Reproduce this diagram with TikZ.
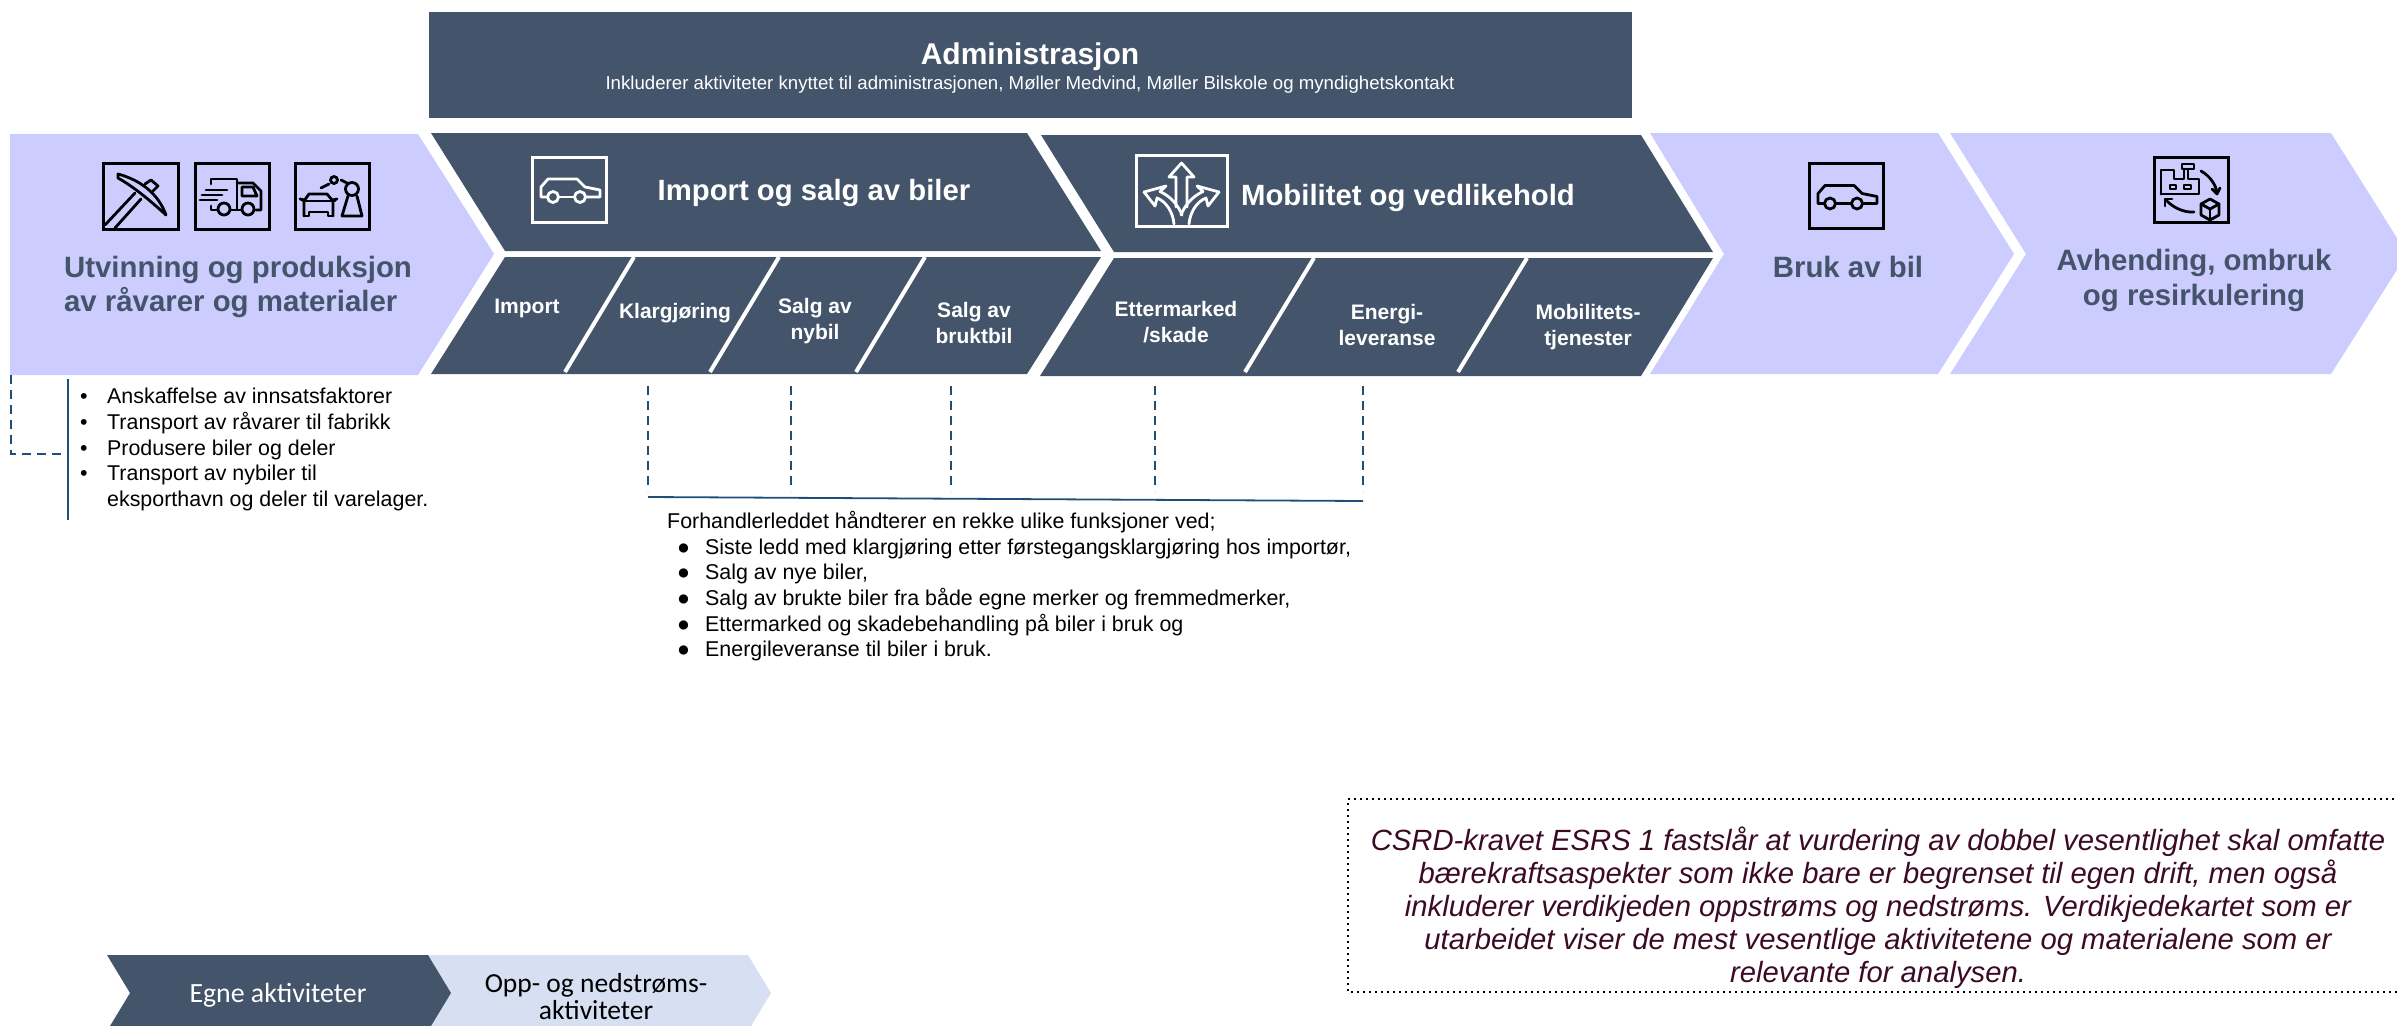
\documentclass[tikz,border=0pt]{standalone}
\usepackage{fontspec}
\setmainfont{Liberation Sans}
\newfontfamily\legendfont{Carlito}
\definecolor{slatec}{HTML}{44546A}
\definecolor{lavc}{HTML}{CCCCFF}
\definecolor{palec}{HTML}{D6E0F2}
\definecolor{navyc}{HTML}{1F4E79}
\definecolor{maroonc}{HTML}{3B0A24}
\newcommand{\fsz}[2]{\fontsize{#1pt}{#2pt}\selectfont}
\tikzset{
  x=1pt,y=-1pt,
  darkfill/.style={fill=slatec,draw=none},
  lavfill/.style={fill=lavc,draw=none},
  sepline/.style={draw=white,line width=4pt},
  leaddash/.style={draw=navyc,line width=1.5pt,dash pattern=on 9pt off 6pt},
  leadline/.style={draw=navyc,line width=1.8pt},
  lavtitle/.style={text=slatec,font=\bfseries\fsz{29.4}{35},align=center,inner sep=0},
  darktitle/.style={text=white,font=\bfseries\fsz{29.3}{35},align=center,inner sep=0},
  sublabel/.style={text=white,font=\bfseries\fsz{21}{26},align=center,inner sep=0},
  listtext/.style={text=black,font=\fsz{21.4}{25.7},align=left,inner sep=0,anchor=north west},
  iconline/.style={line width=2.8pt,line join=round,line cap=round},
  iconbox/.style={line width=3pt},
  caricon/.pic={
    \draw[iconbox] (0,0) rectangle (74,65);
    \draw[iconline] (15.5,40) -- (9,40) -- (9,30) -- (16,22) -- (45,22) -- (53,30) -- (68,33) -- (68,40) -- (53.5,40);
    \draw[iconline] (26.5,40) -- (42.5,40);
    \draw[iconline] (21,40) circle (5.5);
    \draw[iconline] (48,40) circle (5.5);
  },
}
\begin{document}
\begin{tikzpicture}
\useasboundingbox (0,0) rectangle (2397,1025);
\clip (0,0) rectangle (2397,1025);

% admin
\fill[darkfill] (429,12) rectangle (1632,118);
\node[darktitle,font=\bfseries\fsz{30}{35}] (admt) at (1030,57) {Administrasjon};
\node[text=white,font=\fsz{18.65}{22},inner sep=0] (adms) at (1030,85) {Inkluderer aktiviteter knyttet til administrasjonen, Møller Medvind, Møller Bilskole og myndighetskontakt};

% lavender chevrons
\fill[lavfill] (10,134) -- (418,134) -- (494,254) -- (418,375) -- (10,375) -- cycle;
\fill[lavfill] (1650,133) -- (1938,133) -- (2014,254) -- (1938,374) -- (1650,374) -- (1724,254) -- cycle;
\fill[lavfill] (1950,133) -- (2331,133) -- (2407,254) -- (2331,374) -- (1950,374) -- (2026,254) -- cycle;

% dark chevrons
\fill[darkfill] (431,133) -- (1027,133) -- (1101,251) -- (505,251) -- cycle;
\fill[darkfill] (505,257) -- (1101,257) -- (1027,374) -- (431,374) -- cycle;
\fill[darkfill] (1041,135) -- (1641,135) -- (1713,252) -- (1114,252) -- cycle;
\fill[darkfill] (1114,258) -- (1713,258) -- (1641,376) -- (1040,376) -- cycle;
\draw[sepline] (634,257) -- (565,372);
\draw[sepline] (779,257) -- (710,372);
\draw[sepline] (925,257) -- (856,372);
\draw[sepline] (1314,258) -- (1245,372);
\draw[sepline] (1527,258) -- (1458,372);

% chevron texts
\node[lavtitle,font=\bfseries\fsz{29.4}{34},align=left] (utv) at (238,287) {Utvinning og produksjon\\av råvarer og materialer};
\node[lavtitle] (bruk) at (1848,267) {Bruk av bil};
\node[lavtitle] (avh) at (2194,280) {Avhending, ombruk\\og resirkulering};
\node[darktitle] (imps) at (814,193) {Import og salg av biler};
\node[darktitle] (mob) at (1408,198) {Mobilitet og vedlikehold};
\node[sublabel] (l1) at (527,308) {Import};
\node[sublabel] (l2) at (675,313) {Klargjøring};
\node[sublabel] (l3) at (815,321) {Salg av\\nybil};
\node[sublabel] (l4) at (974,323) {Salg av\\bruktbil};
\node[sublabel] (l5) at (1176,322) {Ettermarked\\/skade};
\node[sublabel] (l6) at (1387,325) {Energi-\\leveranse};
\node[sublabel] (l7) at (1588,327) {Mobilitets-\\tjenester};

% icons: pickaxe
\begin{scope}[shift={(103,163)},color=black]
  \draw[iconbox] (0,0) rectangle (75,66);
  \draw[iconline] (15,11) .. controls (37,17) and (55,30) .. (63,52) .. controls (52,42) and (33,25) .. (15,15) -- cycle;
  \draw[iconline] (2,62) -- (32,30);
  \draw[iconline] (12,65) -- (38,36);
  \draw[iconline] (42,21) -- (48,17) -- (55,23) -- (50,28);
\end{scope}
% truck
\begin{scope}[shift={(195,163)},color=black]
  \draw[iconbox] (0,0) rectangle (74,66);
  \draw[iconline] (16,21) -- (16,16) -- (42,16) -- (42,46);
  \draw[iconline] (42,20) -- (58,20) -- (66,28) -- (66,47) -- (61,47);
  \draw[iconline] (47,24) -- (58,24) -- (62,33) -- (47,33) -- cycle;
  \draw[iconline] (36,47) -- (46,47);
  \draw[iconline] (16,43) -- (16,47) -- (22,47);
  \draw[iconline] (29,46) circle (6);
  \draw[iconline] (53,46) circle (6);
  \draw[iconline] (11,27) -- (32,27);
  \draw[iconline] (7,32) -- (27,32);
  \draw[iconline] (5,37) -- (22,37);
\end{scope}
% robot and car
\begin{scope}[shift={(295,163)},color=black]
  \draw[iconbox] (0,0) rectangle (74,66);
  \draw[iconline] (9,53) -- (9,38) -- (14,31) -- (32,31) -- (38,38) -- (38,53);
  \draw[iconline] (9,53) -- (14,53) -- (14,49) -- (33,49) -- (33,53) -- (38,53);
  \draw[iconline] (8,38) -- (40,38);
  \draw[iconline] (5,36) -- (9,37);
  \draw[iconline] (42,36) -- (38,37);
  \draw[iconline] (57,26) circle (6.5);
  \draw[iconline] (39,17) circle (3.5);
  \draw[iconline] (46,17) -- (52,20);
  \draw[iconline] (34,21) -- (26,25);
  \draw[iconline] (53,33) -- (47,53) -- (67,53) -- (62,33);
\end{scope}
% white car
\pic[color=white] at (532,157) {caricon};
% black car
\pic[color=black] at (1809,163.5) {caricon};
% arrows
\begin{scope}[shift={(1136,155)},color=white]
  \draw[iconbox] (0,0) rectangle (91,71);
  \draw[iconline] (40,52) -- (40,22) -- (33,22) -- (45.5,8) -- (58,22) -- (51,22) -- (51,52);
  \draw[iconline] (8,37) -- (30,31) -- (24,36.5) .. controls (36,42) and (43,52) .. (46,60);
  \draw[iconline] (8,37) -- (19,51) -- (21,43) .. controls (31,47) and (37,58) .. (38,69);
  \draw[iconline] (83,37) -- (61,31) -- (67,36.5) .. controls (55,42) and (48,52) .. (45,60);
  \draw[iconline] (83,37) -- (72,51) -- (70,43) .. controls (60,47) and (54,58) .. (53,69);
\end{scope}
% recycling
\begin{scope}[shift={(2154,157)},color=black]
  \draw[iconbox] (0,0) rectangle (74,65);
  \draw[iconline] (7,37) -- (7,13) -- (20,13) -- (20,22) -- (30,22) -- (30,12);
  \draw[iconline] (34,12) -- (34,22) -- (45,22) -- (45,37) -- (7,37);
  \draw[iconline] (28,7) rectangle (40,12);
  \draw[iconline,line width=2.4pt] (16,28) rectangle (22,32);
  \draw[iconline,line width=2.4pt] (30,28) rectangle (37,32);
  \draw[iconline] (47,14) .. controls (56,19) and (62,28) .. (63,36);
  \draw[iconline] (58,32) -- (63,37) -- (66,31);
  \draw[iconline] (40,55) .. controls (30,56) and (18,50) .. (12,43);
  \draw[iconline] (11,49) -- (11,42) -- (18,42);
  \draw[iconline] (47,47) -- (56,42) -- (65,47) -- (65,58) -- (56,63) -- (47,58) -- cycle;
  \draw[iconline] (47,47) -- (56,52) -- (65,47);
  \draw[iconline] (56,52) -- (56,63);
\end{scope}

% left bracket and list
\coordinate (dashA) at (11,375);
\coordinate (dashB) at (11,454);
\coordinate (dashC) at (66,454);
\coordinate (leadT) at (68,379);
\coordinate (leadB) at (68,520);
\draw[leaddash] (dashA) -- (dashB) -- (dashC);
\draw[leadline] (leadT) -- (leadB);
\node[listtext] (list1) at (80,388) {\makebox[27pt][l]{•}Anskaffelse av innsatsfaktorer\\
\makebox[27pt][l]{•}Transport av råvarer til fabrikk\\
\makebox[27pt][l]{•}Produsere biler og deler\\
\makebox[27pt][l]{•}Transport av nybiler til\\
\hspace*{27pt}eksporthavn og deler til varelager.};

% central leaders
\coordinate (t1) at (648,386);\coordinate (b1) at (648,491);
\coordinate (t2) at (791,386);\coordinate (b2) at (791,491);
\coordinate (t3) at (951,386);\coordinate (b3) at (951,491);
\coordinate (t4) at (1155,386);\coordinate (b4) at (1155,491);
\coordinate (t5) at (1363,386);\coordinate (b5) at (1363,491);
\coordinate (hl) at (648,497);\coordinate (hr) at (1363,501);
\draw[leaddash] (t1) -- (b1);
\draw[leaddash] (t2) -- (b2);
\draw[leaddash] (t3) -- (b3);
\draw[leaddash] (t4) -- (b4);
\draw[leaddash] (t5) -- (b5);
\draw[leadline] (hl) -- (hr);
\node[listtext] (list2) at (667,511) {Forhandlerleddet håndterer en rekke ulike funksjoner ved;\\
\hspace*{10pt}\makebox[28pt][l]{●}Siste ledd med klargjøring etter førstegangsklargjøring hos importør,\\
\hspace*{10pt}\makebox[28pt][l]{●}Salg av nye biler,\\
\hspace*{10pt}\makebox[28pt][l]{●}Salg av brukte biler fra både egne merker og fremmedmerker,\\
\hspace*{10pt}\makebox[28pt][l]{●}Ettermarked og skadebehandling på biler i bruk og\\
\hspace*{10pt}\makebox[28pt][l]{●}Energileveranse til biler i bruk.};

% note box
\draw[black,line width=1.6pt,dash pattern=on 1.6pt off 4.4pt] (2400,799) -- (1348,799) -- (1348,992) -- (2400,992);
\node[text=maroonc,font=\itshape\fsz{29.25}{33},align=center,inner sep=0] (note) at (1878,908) {CSRD-kravet ESRS 1 fastslår at vurdering av dobbel vesentlighet skal omfatte\\
bærekraftsaspekter som ikke bare er begrenset til egen drift, men også\\
inkluderer verdikjeden oppstrøms og nedstrøms. Verdikjedekartet som er\\
utarbeidet viser de mest vesentlige aktivitetene og materialene som er\\
relevante for analysen.};

% legend
\fill[palec] (428,955) -- (748,955) -- (771,993) -- (748,1031) -- (428,1031) -- (451,993) -- cycle;
\fill[darkfill] (107,955) -- (428,955) -- (451,993) -- (428,1031) -- (107,1031) -- (130,993) -- cycle;
\node[text=white,font=\legendfont\fsz{27.8}{27},inner sep=0] (leg1) at (278,995) {Egne aktiviteter};
\node[text=black,font=\legendfont\fsz{27.5}{27},align=center,inner sep=0] (leg2) at (596,996.5) {Opp- og nedstrøms-\\aktiviteter};
\end{tikzpicture}
\end{document}
